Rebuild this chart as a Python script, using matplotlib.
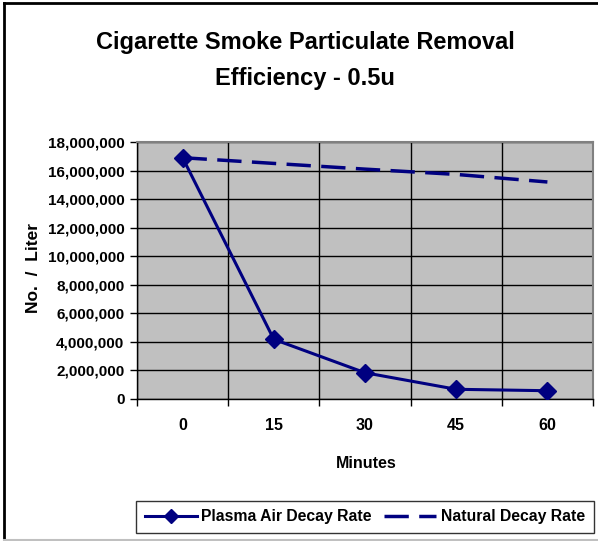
import matplotlib
matplotlib.use("Agg")
import matplotlib.pyplot as plt
from matplotlib.lines import Line2D

categories = ["0", "15", "30", "45", "60"]
plasma = [16900000, 4180000, 1840000, 680000, 580000]
natural = [16900000, 16500000, 16100000, 15730000, 15200000]
yticks = list(range(0, 18000001, 2000000))

plt.rcParams['font.family'] = ['Liberation Sans', 'DejaVu Sans']
plt.rcParams['font.weight'] = 'bold'

W, H = 598, 541
fig = plt.figure(figsize=(W/100, H/100), dpi=100)
ax = fig.add_axes([137/W, (H-399)/H, (593-137)/W, (399-142)/H])
ax.set_facecolor('#C0C0C0')

x = list(range(len(categories)))
navy = '#000080'
dash = (0, (7, 3))
ax.plot(x, natural, color=navy, lw=2.5, ls=dash, zorder=3)
ax.plot(x, plasma, color=navy, lw=2.2, marker='D', markersize=9, zorder=4)

ax.set_xlim(-0.5, len(categories) - 0.5)
ax.set_ylim(0, 18000000)
ax.set_yticks(yticks)
ax.set_yticklabels([f"{v:,}" for v in yticks], fontsize=11, fontweight='bold')
ax.set_xticks([i - 0.5 for i in range(len(categories) + 1)])
ax.set_xticklabels([])
ax.set_xticks(x, minor=True)
ax.set_xticklabels(categories, minor=True, fontsize=11.5, fontweight='bold')
ax.tick_params(axis='x', which='major', length=5, width=1, direction='out')
ax.tick_params(axis='x', which='minor', length=0, pad=14)
ax.tick_params(axis='y', length=5, width=1, direction='out', pad=4)
ax.grid(True, which='major', color='black', lw=1)
ax.set_axisbelow(True)
for s in ['top', 'right']:
    ax.spines[s].set_color('#808080')
    ax.spines[s].set_linewidth(1.5)
for s in ['left', 'bottom']:
    ax.spines[s].set_color('black')
    ax.spines[s].set_linewidth(1)

fig.text(33/W, 1 - 268/H, "No.  /  Liter", rotation=90, ha='center', va='center',
         fontsize=12.5, fontweight='bold')
fig.text(366/W, 1 - 463/H, "Minutes", ha='center', va='center', fontsize=11.5, fontweight='bold')
fig.text(305/W, 1 - 43/H, "Cigarette Smoke Particulate Removal", ha='center', va='center',
         fontsize=17, fontweight='bold')
fig.text(305/W, 1 - 78/H, "Efficiency - 0.5u", ha='center', va='center',
         fontsize=17, fontweight='bold')

handles = [Line2D([], [], color=navy, lw=2.2, marker='D', markersize=7),
           Line2D([], [], color=navy, lw=2.5, ls=dash)]
leg = fig.legend(handles, ["Plasma Air Decay Rate", "Natural Decay Rate"], ncol=2,
                 loc='center', bbox_to_anchor=(365/W, 1 - 517/H), fontsize=11.3,
                 frameon=True, fancybox=False, edgecolor='black', handlelength=3.3,
                 columnspacing=0.8, handletextpad=0.3, borderpad=0.55)
leg.get_frame().set_linewidth(1)
for t in leg.get_texts():
    t.set_fontweight('bold')

# outer border
fig.add_artist(Line2D([4/W, 4/W], [0, 1 - 3/H], color='black', lw=2, transform=fig.transFigure))
fig.add_artist(Line2D([4/W, 1], [1 - 3/H, 1 - 3/H], color='black', lw=2, transform=fig.transFigure))
fig.add_artist(Line2D([4/W, 1], [1/H, 1/H], color='#C0C0C0', lw=1.5, transform=fig.transFigure))

fig.savefig("out.png", dpi=100)
